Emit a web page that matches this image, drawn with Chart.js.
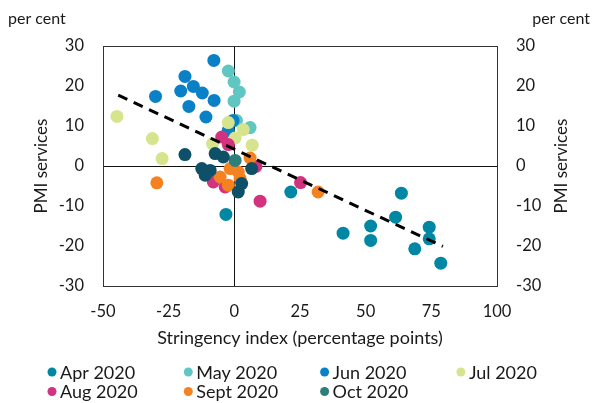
<!DOCTYPE html>
<html lang="en">
<head>
<meta charset="UTF-8">
<title>PMI services and stringency</title>
<script src="https://cdn.jsdelivr.net/npm/chart.js"></script>
<style>
  html, body { margin: 0; padding: 0; background: #fff; }
</style>
</head>
<body>
<canvas id="chart" width="593" height="403"></canvas>
<script>
// categories and colours
const months = ['Apr 2020', 'May 2020', 'Jun 2020', 'Jul 2020', 'Aug 2020', 'Sept 2020', 'Oct 2020'];
const colours = ['#0087a3', '#5fc6c1', '#0a80c6', '#d6e48d', '#d3327f', '#f58220', '#2e7e7a'];
const otherColour = '#0d5068';

const xTicks = [-50, -25, 0, 25, 50, 75, 100];
const yTicks = [-30, -20, -10, 0, 10, 20, 30];

// [stringency, PMI services]
const apr = [[-3.2, -12.1], [21.5, -6.5], [41.4, -16.8], [51.9, -15], [51.9, -18.6], [63.6, -6.8],
             [61.4, -12.8], [68.7, -20.7], [74.2, -15.3], [74.2, -18.2], [78.6, -24.3]];
const may = [[-2.3, 23.75], [-0.1, 21], [1.9, 18.5], [-0.1, 16.2], [6, 9.6], [0.8, 11.4]];
const jun = [[-7.8, 26.4], [-18.8, 22.4], [-15.6, 19.9], [-20.4, 18.75], [-12.2, 18.25], [-30, 17.4],
             [-7.7, 16.4], [-17.3, 14.9], [-10.8, 12.25], [-0.5, 11.4], [-2.3, 8.9]];
const jul = [[-44.7, 12.4], [-31.2, 6.85], [-27.5, 1.85], [-2.3, 10.85], [3.4, 9.1], [6.8, 5.2],
             [-8.3, 5.6], [0.3, 7]];
const aug = [[-4.8, 7.25], [-2.3, 5.35], [-8, -4], [-3.5, -5.25], [9.8, -8.8], [25.2, -4.15], [8.2, -0.1]];
const sep = [[-29.5, -4.2], [31.9, -6.5], [6, 2], [-5.4, -2.75], [-1.6, -0.65], [1.5, -1.5],
             [-2.3, -4.8], [2.2, -3.15]];
const oct = [[0.3, 1.4]];
const other = [[-18.8, 2.85], [-7.3, 3.1], [-4.2, 2.25], [6.6, -0.65], [-12.4, -0.65], [-9.2, -1.1],
               [-11.1, -2.3], [2.8, -4.4], [1.5, -6.5]];
const trend = [[-44.2, 17.7], [79.4, -20.1]];

const series = [apr, may, jun, jul, aug, sep, oct];
const toPts = arr => arr.map(p => ({ x: p[0], y: p[1] }));

const font = 'Lato, "Open Sans", sans-serif';
const textColour = '#1a1a1a';

const datasets = series.map((s, i) => ({
    type: 'scatter',
    label: months[i],
    data: toPts(s),
    backgroundColor: colours[i],
    borderWidth: 0,
    pointRadius: 6.5,
    pointHoverRadius: 6.5,
    order: 9 - i
}));
// unlabelled darker points
datasets.push({
    type: 'scatter',
    label: '',
    data: toPts(other),
    backgroundColor: otherColour,
    borderWidth: 0,
    pointRadius: 6.5,
    order: 2
});
datasets.push({
    type: 'line',
    label: 'trend',
    data: toPts(trend),
    borderColor: '#000',
    borderWidth: 3,
    borderDash: [10, 7],
    pointRadius: 0,
    fill: false,
    order: 0
});

const extras = {
    id: 'extras',
    beforeDatasetsDraw(chart) {
        const { ctx, chartArea: a } = chart;
        ctx.save();
        ctx.strokeStyle = '#333';
        ctx.lineWidth = 1;
        ctx.strokeRect(a.left + 0.5, a.top + 0.5, a.right - a.left, a.bottom - a.top);
        ctx.restore();
    },
    afterDraw(chart) {
        const { ctx, chartArea: a } = chart;
        ctx.save();
        ctx.fillStyle = textColour;
        ctx.font = '16px ' + font;
        ctx.textBaseline = 'middle';
        ctx.textAlign = 'left';
        ctx.fillText('per cent', 8, 19);
        ctx.textAlign = 'right';
        ctx.fillText('per cent', 590, 19);

        // right axis title, reading upwards like the left one
        ctx.font = '17px ' + font;
        ctx.textAlign = 'center';
        ctx.translate(562, (a.top + a.bottom) / 2);
        ctx.rotate(-Math.PI / 2);
        ctx.fillText('PMI services', 0, 0);
        ctx.restore();

        // legend, 4 columns
        ctx.save();
        ctx.font = '18px ' + font;
        ctx.textBaseline = 'middle';
        ctx.textAlign = 'left';
        months.forEach((m, i) => {
            const cx = 52 + (i % 4) * 136.3;
            const cy = 372 + Math.floor(i / 4) * 19.5;
            ctx.fillStyle = colours[i];
            ctx.beginPath();
            ctx.arc(cx, cy, 4.5, 0, Math.PI * 2);
            ctx.fill();
            ctx.fillStyle = textColour;
            ctx.fillText(m, cx + 8, cy + 1);
        });
        ctx.restore();
    }
};

new Chart(document.getElementById('chart'), {
    data: { datasets: datasets },
    options: {
        responsive: false,
        animation: false,
        events: [],
        layout: { padding: { top: 46, bottom: 54, left: 0, right: 0 } },
        plugins: { legend: { display: false }, tooltip: { enabled: false } },
        scales: {
            x: {
                type: 'linear',
                min: -50, max: 100,
                afterBuildTicks: s => { s.ticks = xTicks.map(v => ({ value: v })); },
                afterFit: s => { s.height = 63; },
                grid: {
                    drawTicks: false,
                    color: c => c.tick && c.tick.value === 0 ? '#111' : 'rgba(0,0,0,0)',
                    lineWidth: 1
                },
                border: { display: false },
                ticks: { padding: 16, color: textColour, font: { family: font, size: 16.5 }, maxRotation: 0 },
                title: {
                    display: true,
                    text: 'Stringency index (percentage points)',
                    color: textColour,
                    font: { family: font, size: 18 },
                    padding: { top: 0, bottom: 0 }
                }
            },
            y: {
                type: 'linear',
                position: 'left',
                min: -30, max: 30,
                afterBuildTicks: s => { s.ticks = yTicks.map(v => ({ value: v })); },
                afterFit: s => { s.width = 103; },
                grid: {
                    drawTicks: false,
                    color: c => c.tick && c.tick.value === 0 ? '#111' : 'rgba(0,0,0,0)',
                    lineWidth: 1
                },
                border: { display: false },
                ticks: { padding: 19, color: textColour, font: { family: font, size: 16.5 } },
                title: {
                    display: true,
                    text: 'PMI services',
                    color: textColour,
                    font: { family: font, size: 17 },
                    padding: { top: 31, bottom: 0 }
                }
            },
            y2: {
                type: 'linear',
                position: 'right',
                min: -30, max: 30,
                afterBuildTicks: s => { s.ticks = yTicks.map(v => ({ value: v })); },
                afterFit: s => { s.width = 96; },
                grid: { display: false, drawTicks: false },
                border: { display: false },
                ticks: { padding: 19, color: textColour, font: { family: font, size: 16.5 } }
            }
        }
    },
    plugins: [extras]
});
</script>
</body>
</html>
